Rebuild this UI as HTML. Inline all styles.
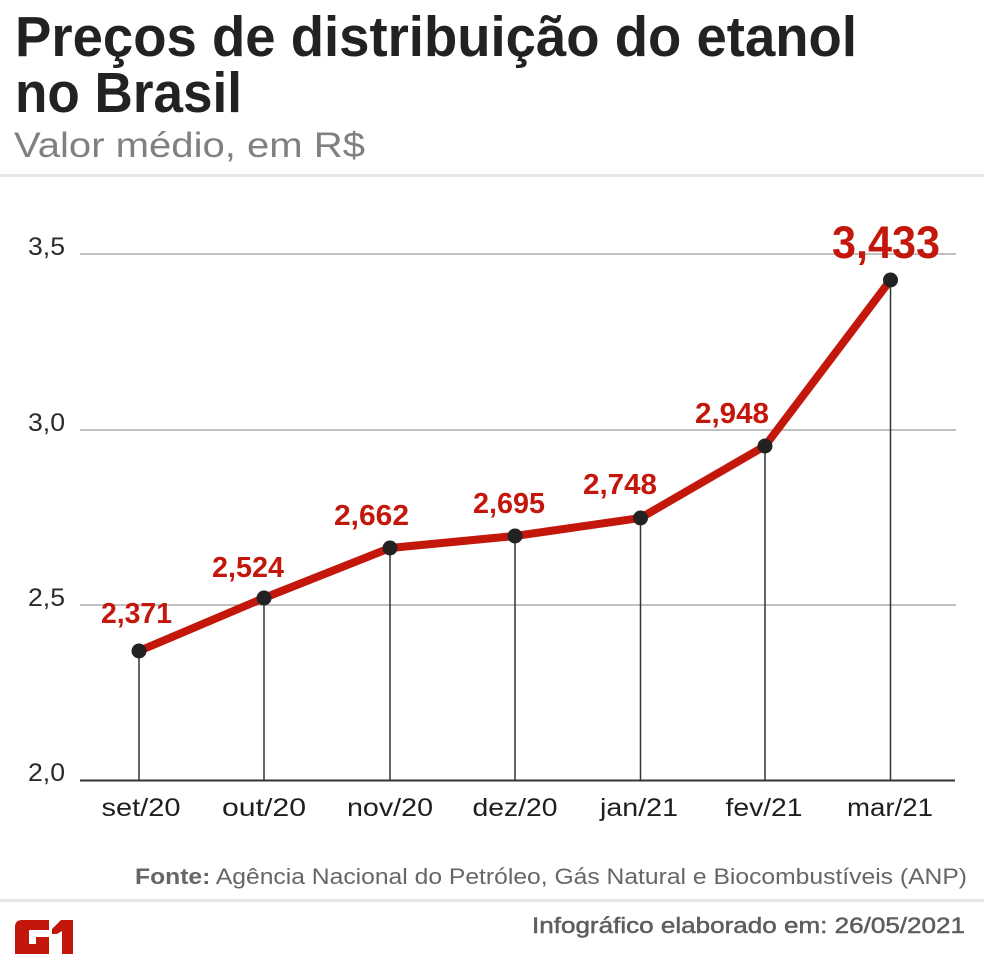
<!DOCTYPE html>
<html>
<head>
<meta charset="utf-8">
<style>
  html, body { margin: 0; padding: 0; background: #ffffff; }
  body { width: 984px; height: 976px; overflow: hidden; }
  svg { display: block; }
  text { font-family: "Liberation Sans", "DejaVu Sans", sans-serif; }
</style>
</head>
<body>
<svg width="984" height="976" viewBox="0 0 984 976" xmlns="http://www.w3.org/2000/svg">
  <rect x="0" y="0" width="984" height="976" fill="#ffffff"/>

  <!-- Title -->
  <text x="15" y="56" font-size="57" font-weight="bold" fill="#222222" textLength="842" lengthAdjust="spacingAndGlyphs">Preços de distribuição do etanol</text>
  <text x="15" y="112" font-size="57" font-weight="bold" fill="#222222" textLength="227" lengthAdjust="spacingAndGlyphs">no Brasil</text>
  <text x="14" y="157" font-size="35" fill="#808080" textLength="351" lengthAdjust="spacingAndGlyphs">Valor médio, em R$</text>

  <!-- separator -->
  <rect x="0" y="174" width="984" height="3" fill="#e6e6e6"/>

  <!-- gridlines -->
  <line x1="80" y1="254" x2="956" y2="254" stroke="#ababab" stroke-width="1.5"/>
  <line x1="80" y1="430" x2="956" y2="430" stroke="#ababab" stroke-width="1.5"/>
  <line x1="80" y1="605" x2="956" y2="605" stroke="#ababab" stroke-width="1.5"/>

  <!-- y labels -->
  <g font-size="25" fill="#2a2a2a">
    <text x="28" y="255" textLength="37" lengthAdjust="spacingAndGlyphs">3,5</text>
    <text x="28" y="431" textLength="37" lengthAdjust="spacingAndGlyphs">3,0</text>
    <text x="28" y="606" textLength="37" lengthAdjust="spacingAndGlyphs">2,5</text>
    <text x="28" y="781" textLength="37" lengthAdjust="spacingAndGlyphs">2,0</text>
  </g>

  <!-- stems -->
  <g stroke="#333333" stroke-width="1.5">
    <line x1="139" y1="651" x2="139" y2="780"/>
    <line x1="264" y1="598" x2="264" y2="780"/>
    <line x1="390" y1="548" x2="390" y2="780"/>
    <line x1="515" y1="536" x2="515" y2="780"/>
    <line x1="640.5" y1="518" x2="640.5" y2="780"/>
    <line x1="765" y1="446" x2="765" y2="780"/>
    <line x1="890.5" y1="280" x2="890.5" y2="780"/>
  </g>

  <!-- baseline -->
  <line x1="80" y1="780.5" x2="955" y2="780.5" stroke="#333333" stroke-width="2"/>

  <!-- x labels -->
  <g font-size="25" fill="#1e1e1e" text-anchor="middle">
    <text x="141" y="816" textLength="79" lengthAdjust="spacingAndGlyphs">set/20</text>
    <text x="264" y="816" textLength="84" lengthAdjust="spacingAndGlyphs">out/20</text>
    <text x="390" y="816" textLength="86" lengthAdjust="spacingAndGlyphs">nov/20</text>
    <text x="515" y="816" textLength="85" lengthAdjust="spacingAndGlyphs">dez/20</text>
    <text x="639" y="816" textLength="78" lengthAdjust="spacingAndGlyphs">jan/21</text>
    <text x="764" y="816" textLength="77" lengthAdjust="spacingAndGlyphs">fev/21</text>
    <text x="890" y="816" textLength="86" lengthAdjust="spacingAndGlyphs">mar/21</text>
  </g>

  <!-- series line -->
  <polyline points="139,651 264,598 390,548 515,536 640.5,518 765,446 890.5,280"
    fill="none" stroke="#c4170c" stroke-width="8" stroke-linejoin="round" stroke-linecap="round"/>

  <!-- dots -->
  <g fill="#222222">
    <circle cx="139" cy="651" r="7.5"/>
    <circle cx="264" cy="598" r="7.5"/>
    <circle cx="390" cy="548" r="7.5"/>
    <circle cx="515" cy="536" r="7.5"/>
    <circle cx="640.5" cy="518" r="7.5"/>
    <circle cx="765" cy="446" r="7.5"/>
    <circle cx="890.5" cy="280" r="7.5"/>
  </g>

  <!-- data labels -->
  <g font-size="28.5" font-weight="bold" fill="#c4170c">
    <text x="101" y="623" textLength="71" lengthAdjust="spacingAndGlyphs">2,371</text>
    <text x="212" y="577" textLength="72" lengthAdjust="spacingAndGlyphs">2,524</text>
    <text x="334" y="525" textLength="75" lengthAdjust="spacingAndGlyphs">2,662</text>
    <text x="473" y="513" textLength="72" lengthAdjust="spacingAndGlyphs">2,695</text>
    <text x="583" y="494" textLength="74" lengthAdjust="spacingAndGlyphs">2,748</text>
    <text x="695" y="423" textLength="74" lengthAdjust="spacingAndGlyphs">2,948</text>
  </g>
  <text x="832" y="258" font-size="45" font-weight="bold" fill="#c4170c" textLength="108" lengthAdjust="spacingAndGlyphs">3,433</text>

  <!-- source -->
  <text x="135" y="884" font-size="22" fill="#666666" textLength="832" lengthAdjust="spacingAndGlyphs"><tspan font-weight="bold">Fonte:</tspan> Agência Nacional do Petróleo, Gás Natural e Biocombustíveis (ANP)</text>

  <!-- footer separator -->
  <rect x="0" y="899" width="984" height="3" fill="#e6e6e6"/>

  <!-- G1 logo -->
  <g fill="#c4170c">
    <path d="M15,927 Q15,920 22,920 L49,920 L49,930 L29,930 L29,944 L36,944 L36,937 L49,937 L49,954 L15,954 Z"/>
    <path d="M52,929 L61,920 L73,920 L73,954 L62,954 L62,931 L57,934 L52,934 Z"/>
  </g>

  <!-- footer credit -->
  <text x="532" y="933" font-size="22.5" fill="#5e5e5e" stroke="#5e5e5e" stroke-width="0.5" textLength="433" lengthAdjust="spacingAndGlyphs">Infográfico elaborado em: 26/05/2021</text>
</svg>
</body>
</html>
